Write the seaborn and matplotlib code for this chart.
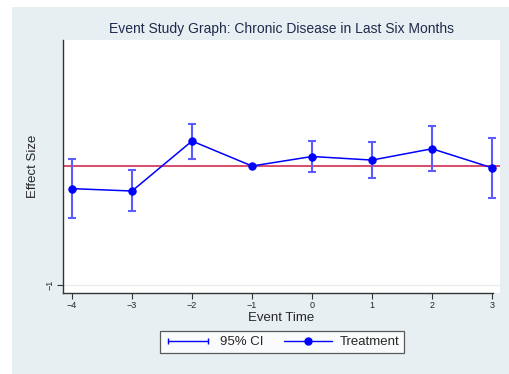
import pandas as pd
import numpy as np
import seaborn as sns
import matplotlib.pyplot as plt
from matplotlib.lines import Line2D
from matplotlib.patches import Rectangle
from matplotlib.legend_handler import HandlerLine2D

# event study estimates
event_time = [-4, -3, -2, -1, 0, 1, 2, 3]
effect = [-0.19, -0.21, 0.21, 0.0, 0.08, 0.05, 0.145, -0.015]
ci_low = [-0.44, -0.38, 0.06, np.nan, -0.05, -0.10, -0.045, -0.27]
ci_high = [0.055, -0.035, 0.355, np.nan, 0.21, 0.205, 0.34, 0.235]
xticks = [-4, -3, -2, -1, 0, 1, 2, 3]

df = pd.DataFrame({'t': event_time, 'b': effect, 'lo': ci_low, 'hi': ci_high})

sns.set_style('white')
plt.rcParams['font.family'] = ['Liberation Sans', 'DejaVu Sans']

bg = '#e8eff2'
blue = '#0000ff'
fig = plt.figure(figsize=(5.1, 3.74), dpi=100, facecolor='white')
fig.patches.append(Rectangle((12 / 510, 0), 1, 1 - 7 / 374, transform=fig.transFigure,
                             facecolor=bg, edgecolor='none', zorder=-10))
ax = fig.add_axes([63 / 510, 1 - 293 / 374, 437 / 510, 253 / 374])
ax.set_facecolor('white')

# light grid at the single y tick
ax.axhline(-1, color='#e4ecee', lw=0.8, zorder=0)
ax.axhline(0, color='#d62b50', lw=1.2, zorder=1)

err = ax.errorbar(df['t'], df['b'], yerr=[df['b'] - df['lo'], df['hi'] - df['b']],
                  fmt='none', ecolor='#5c5cff', elinewidth=1.5, capsize=2.9,
                  capthick=1.5, zorder=2)
sns.lineplot(data=df, x='t', y='b', ax=ax, color=blue, lw=1.1, marker='o',
             markersize=5.3, markeredgecolor=blue, zorder=3, legend=False)

ax.set_xlim(-4.15, 3.133)
ax.set_ylim(-1.067, 1.059)
ax.set_xticks(xticks)
ax.set_xticklabels([str(v).replace('-', '\u2212') for v in xticks], fontsize=6.5)
ax.set_yticks([-1])
ax.set_yticklabels(['\u22121'], fontsize=6.5, rotation=90, va='center')
ax.tick_params(axis='both', direction='out', length=4, width=0.8, color='#333333',
               bottom=True, left=True, pad=2)

for s in ['top', 'right']:
    ax.spines[s].set_visible(False)
for s in ['left', 'bottom']:
    ax.spines[s].set_color('#333333')
    ax.spines[s].set_linewidth(1.0)
ax.spines['bottom'].set_bounds(-4.15, 3.02)

ax.set_xlabel('Event Time', fontsize=9.5, labelpad=1)
ax.set_ylabel('Effect Size', fontsize=9.5, labelpad=5)
ax.set_title('Event Study Graph: Chronic Disease in Last Six Months',
             fontsize=10, color='#1e2a4c', pad=5)

ci_handle = Line2D([], [], color=blue, lw=1.0, marker='|', markersize=5,
                   markeredgewidth=1.0)
tr_handle = Line2D([], [], color=blue, lw=1.0, marker='o', markersize=5)
leg = fig.legend([ci_handle, tr_handle], ['95% CI', 'Treatment'],
                 handler_map={ci_handle: HandlerLine2D(numpoints=2),
                              tr_handle: HandlerLine2D(numpoints=1)},
                 loc='center', bbox_to_anchor=(282 / 510, 1 - 342 / 374), ncol=2,
                 fontsize=9.5, frameon=True, fancybox=False, handlelength=3.6,
                 columnspacing=1.6, borderpad=0.35, handletextpad=0.6)
leg.get_frame().set_edgecolor('#333333')
leg.get_frame().set_linewidth(0.9)
leg.get_frame().set_facecolor('white')

fig.savefig('out.png', dpi=100, facecolor=fig.get_facecolor())
